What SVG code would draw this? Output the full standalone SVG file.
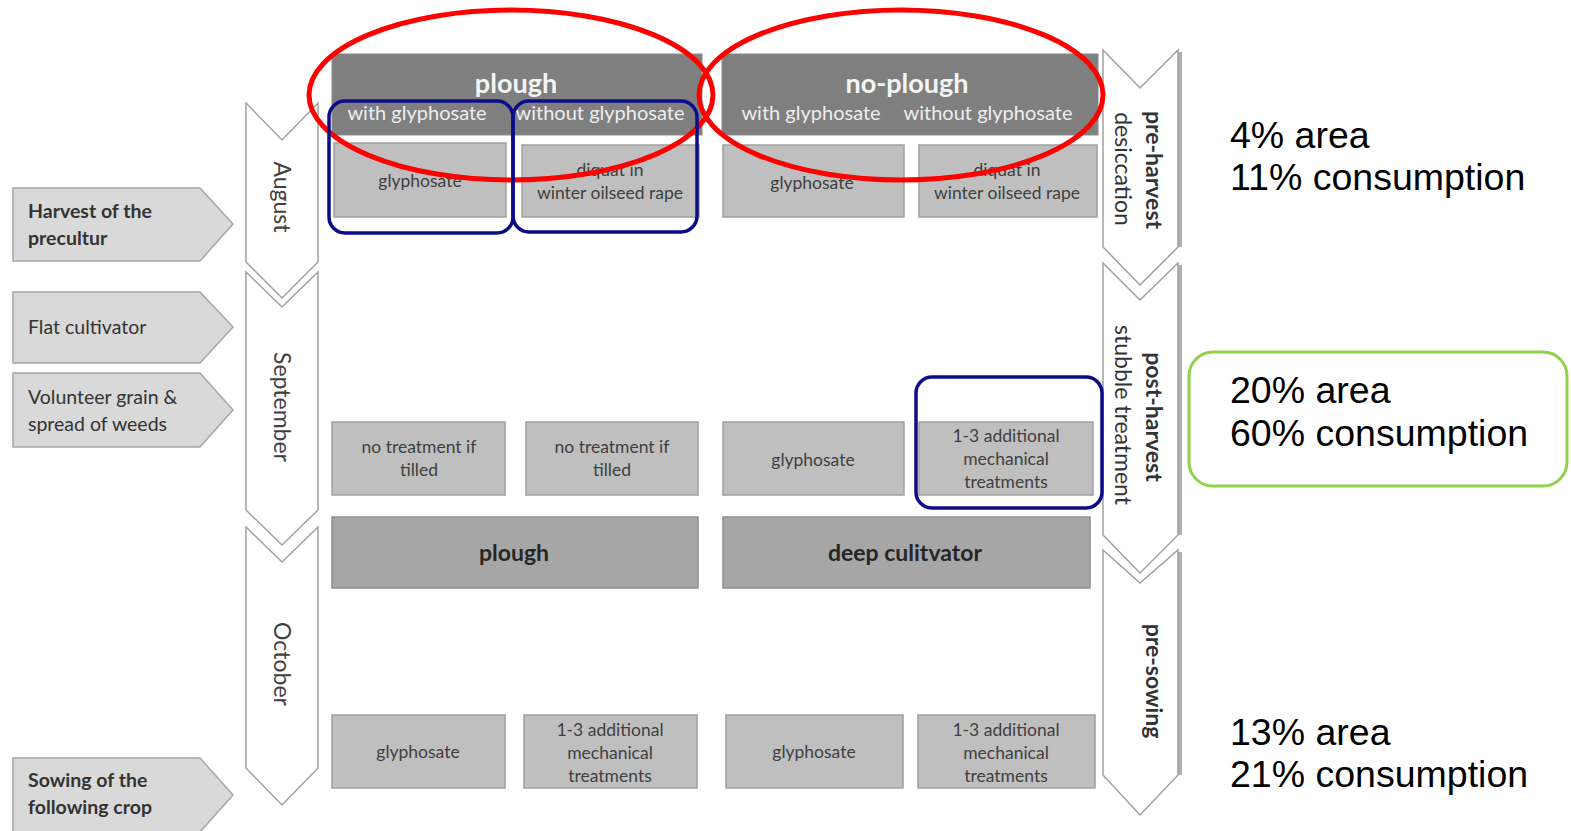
<svg xmlns="http://www.w3.org/2000/svg" width="1571" height="831" viewBox="0 0 1571 831">
<style>
text{font-family:Lato,"Open Sans","Liberation Sans",sans-serif}
.bg{fill:#ffffff}
.side{fill:#d9d9d9;stroke:#a6a6a6;stroke-width:1.5}
.sidet{font-size:19.5px;fill:#333333}
.b{font-weight:bold}
.chev{fill:#ffffff;stroke:#a0a0a0;stroke-width:1.5}
.chevsh{stroke:#b0b0b0;stroke-width:4;fill:none}
.month{font-size:23px;fill:#404040;text-anchor:middle}
.phase{font-size:23px;fill:#333333;text-anchor:middle}
.head{fill:#7f7f7f;stroke:#8c8c8c;stroke-width:1}
.headt{font-size:27px;font-weight:bold;fill:#f5f5f5;text-anchor:middle}
.subt{font-size:20px;fill:#eeeeee;text-anchor:middle}
.box{fill:#bfbfbf;stroke:#a0a0a0;stroke-width:1.5}
.boxt{font-size:17.5px;fill:#404040;text-anchor:middle}
.big{fill:#a6a6a6;stroke:#8f8f8f;stroke-width:1.5}
.bigt{font-size:23px;font-weight:bold;fill:#262626;text-anchor:middle}
.red{fill:none;stroke:#ff0000;stroke-width:5}
.blue{fill:none;stroke:#0c0c8a;stroke-width:3.5}
.green{fill:none;stroke:#92d050;stroke-width:3}
.stat{font-family:"Liberation Sans",Arial,sans-serif;font-size:37.5px;fill:#000000}
</style>
<rect class="bg" x="0" y="0" width="1571" height="831"/>

<g id="left-events">
  <g id="harvest">
    <path class="side" d="M13,188 L200,188 L233,224 L200,261 L13,261 Z"/>
    <text class="sidet b" x="28" y="218">Harvest of the</text>
    <text class="sidet b" x="28" y="245">precultur</text>
  </g>
  <g id="flat">
    <path class="side" d="M13,292 L200,292 L233,327 L200,363 L13,363 Z"/>
    <text class="sidet" x="28" y="334">Flat cultivator</text>
  </g>
  <g id="volunteer">
    <path class="side" d="M13,373 L200,373 L233,410 L200,447 L13,447 Z"/>
    <text class="sidet" x="28" y="404">Volunteer grain &amp;</text>
    <text class="sidet" x="28" y="431">spread of weeds</text>
  </g>
  <g id="sowing">
    <path class="side" d="M13,758 L200,758 L233,795 L200,832 L13,832 Z"/>
    <text class="sidet b" x="28" y="787">Sowing of the</text>
    <text class="sidet b" x="28" y="814">following crop</text>
  </g>
</g>

<g id="months">
  <g id="august">
    <path class="chev" d="M246,103 L282,140 L318,103 L318,262 L282,298 L246,262 Z"/>
    <text class="month" transform="translate(274,197) rotate(90)">August</text>
  </g>
  <g id="september">
    <path class="chev" d="M246,272 L282,307 L318,272 L318,510 L282,545 L246,510 Z"/>
    <text class="month" transform="translate(274,407) rotate(90)">September</text>
  </g>
  <g id="october">
    <path class="chev" d="M246,527 L282,562 L318,527 L318,768 L282,805 L246,768 Z"/>
    <text class="month" transform="translate(274,664) rotate(90)">October</text>
  </g>
</g>

<g id="phases">
  <g id="pre-harvest">
    <path class="chevsh" d="M1180,52 L1180,247"/>
    <path class="chev" d="M1103,50 L1140,88 L1178,50 L1178,247 L1140,285 L1103,247 Z"/>
    <text class="phase b" transform="translate(1146,170) rotate(90)">pre-harvest</text>
    <text class="phase" transform="translate(1115,169) rotate(90)">desiccation</text>
  </g>
  <g id="post-harvest">
    <path class="chevsh" d="M1180,265 L1180,535"/>
    <path class="chev" d="M1103,263 L1140,300 L1178,263 L1178,535 L1140,573 L1103,535 Z"/>
    <text class="phase b" transform="translate(1146,417) rotate(90)">post-harvest</text>
    <text class="phase" transform="translate(1115,415) rotate(90)">stubble treatment</text>
  </g>
  <g id="pre-sowing">
    <path class="chevsh" d="M1180,552 L1180,775"/>
    <path class="chev" d="M1103,550 L1140,583 L1178,550 L1178,775 L1140,815 L1103,775 Z"/>
    <text class="phase b" transform="translate(1146,681) rotate(90)">pre-sowing</text>
  </g>
</g>

<g id="headers">
  <g id="plough-head">
    <rect class="head" x="332" y="54" width="370" height="81"/>
    <text class="headt" x="516" y="93">plough</text>
    <text class="subt" x="417" y="120">with glyphosate</text>
    <text class="subt" x="600" y="120">without glyphosate</text>
  </g>
  <g id="noplough-head">
    <rect class="head" x="722" y="54" width="376" height="81"/>
    <text class="headt" x="907" y="93">no-plough</text>
    <text class="subt" x="811" y="120">with glyphosate</text>
    <text class="subt" x="988" y="120">without glyphosate</text>
  </g>
</g>

<g id="row-august">
  <g id="a1"><rect class="box" x="334" y="143" width="172" height="74"/><text class="boxt" x="420" y="187">glyphosate</text></g>
  <g id="a2"><rect class="box" x="522" y="145" width="177" height="72"/><text class="boxt" x="610" y="176">diquat in</text><text class="boxt" x="610" y="199">winter oilseed rape</text></g>
  <g id="a3"><rect class="box" x="723" y="145" width="181" height="72"/><text class="boxt" x="812" y="189">glyphosate</text></g>
  <g id="a4"><rect class="box" x="919" y="145" width="178" height="72"/><text class="boxt" x="1007" y="176">diquat in</text><text class="boxt" x="1007" y="199">winter oilseed rape</text></g>
</g>

<g id="row-september">
  <g id="s1"><rect class="box" x="332" y="422" width="173" height="73"/><text class="boxt" x="419" y="453">no treatment if</text><text class="boxt" x="419" y="476">tilled</text></g>
  <g id="s2"><rect class="box" x="526" y="422" width="172" height="73"/><text class="boxt" x="612" y="453">no treatment if</text><text class="boxt" x="612" y="476">tilled</text></g>
  <g id="s3"><rect class="box" x="723" y="422" width="181" height="73"/><text class="boxt" x="813" y="466">glyphosate</text></g>
  <g id="s4"><rect class="box" x="919" y="422" width="174" height="73"/><text class="boxt" x="1006" y="442">1-3 additional</text><text class="boxt" x="1006" y="465">mechanical</text><text class="boxt" x="1006" y="488">treatments</text></g>
</g>

<g id="row-tillage">
  <g id="t1"><rect class="big" x="332" y="517" width="366" height="71"/><text class="bigt" x="514" y="561">plough</text></g>
  <g id="t2"><rect class="big" x="723" y="517" width="367" height="71"/><text class="bigt" x="905" y="561">deep culitvator</text></g>
</g>

<g id="row-october">
  <g id="o1"><rect class="box" x="332" y="715" width="173" height="73"/><text class="boxt" x="418" y="758">glyphosate</text></g>
  <g id="o2"><rect class="box" x="524" y="715" width="173" height="73"/><text class="boxt" x="610" y="736">1-3 additional</text><text class="boxt" x="610" y="759">mechanical</text><text class="boxt" x="610" y="782">treatments</text></g>
  <g id="o3"><rect class="box" x="726" y="715" width="177" height="73"/><text class="boxt" x="814" y="758">glyphosate</text></g>
  <g id="o4"><rect class="box" x="918" y="715" width="177" height="73"/><text class="boxt" x="1006" y="736">1-3 additional</text><text class="boxt" x="1006" y="759">mechanical</text><text class="boxt" x="1006" y="782">treatments</text></g>
</g>

<g id="highlights">
  <ellipse class="red" cx="511" cy="95" rx="202" ry="85"/>
  <ellipse class="red" cx="901" cy="95" rx="202" ry="85"/>
  <rect class="blue" x="329" y="101" width="184" height="132" rx="16"/>
  <rect class="blue" x="513" y="101" width="184" height="131" rx="16"/>
  <rect class="blue" x="916" y="377" width="186" height="131" rx="16"/>
  <rect class="green" x="1189" y="352" width="378" height="134" rx="24"/>
</g>

<g id="stats">
  <text class="stat" x="1230" y="148">4% area</text>
  <text class="stat" x="1230" y="190">11% consumption</text>
  <text class="stat" x="1230" y="403">20% area</text>
  <text class="stat" x="1230" y="446">60% consumption</text>
  <text class="stat" x="1230" y="745">13% area</text>
  <text class="stat" x="1230" y="787">21% consumption</text>
</g>
</svg>
